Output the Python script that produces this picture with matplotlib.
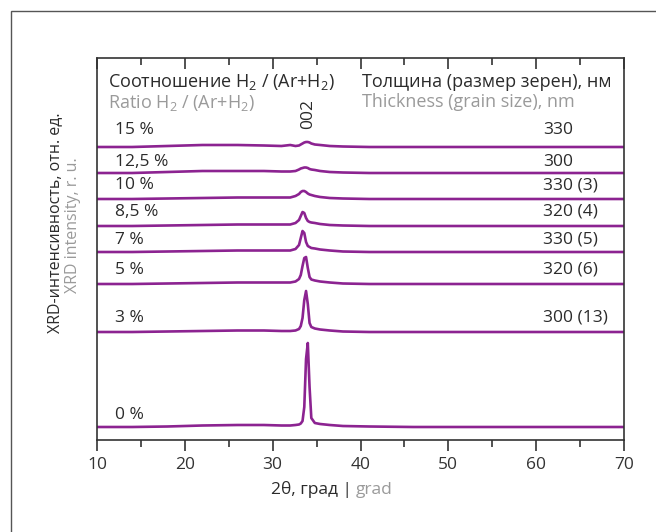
import matplotlib
matplotlib.use("Agg")
import matplotlib.pyplot as plt
from matplotlib import markers
from matplotlib.patches import Rectangle

plt.rcParams['font.family'] = ['Open Sans', 'DejaVu Sans']
plt.rcParams['mathtext.fontset'] = 'custom'
plt.rcParams['mathtext.rm'] = 'Open Sans'
plt.rcParams['mathtext.it'] = 'Open Sans'

# 2theta sample points (deg)
two_theta = [10, 14, 18, 22, 26, 29, 31, 32, 32.6, 33.0, 33.2, 33.4, 33.6,
             33.8, 34.0, 34.2, 34.4, 34.8, 35.4, 36.5, 38, 41, 46, 55, 70]

# intensity above each baseline (r. u.)
i_0 = [0, 0, 0.5, 1.5, 2, 2, 1.5, 1.5, 2, 2.5, 3.5, 6, 20, 68, 84, 40, 9, 4, 3, 2, 1, 0.5, 0, 0, 0]
i_3 = [0, 0, 0.5, 1, 1.5, 1.5, 1, 1, 1.5, 3, 6, 14, 32, 41, 28, 9, 5, 3.5, 2.5, 1.5, 0.5, 0, 0, 0, 0]
i_5 = [0, 0, 0.5, 1, 1.5, 1.5, 1.5, 1.5, 2.5, 5, 9, 18, 26, 27, 16, 7, 4.5, 3.5, 2.5, 1.5, 0.5, 0, 0, 0, 0]
i_7 = [0, 0, 0.5, 1, 1.5, 1.5, 1.5, 1.5, 3, 7, 14, 21, 19, 10, 6, 5, 4, 3.5, 2.5, 1.5, 0.5, 0, 0, 0, 0]
i_85 = [0, 0, 0.5, 1, 1.5, 1.5, 1.5, 1.5, 3, 6, 10, 14, 13, 8, 5, 4, 3.5, 3, 2, 1, 0.5, 0, 0, 0, 0]
i_10 = [0, 0, 0.5, 1, 1.5, 1.5, 1.5, 1.5, 3, 5, 7, 8, 8, 7, 5.5, 4.5, 4, 3, 2, 1, 0.5, 0, 0, 0, 0]
i_125 = [0, 0, 1, 2, 2, 2, 1.5, 1.5, 2, 3.5, 4.5, 5, 5.5, 5.5, 5, 4, 3.5, 3, 2, 1, 0.5, 0, 0, 0, 0]
i_15 = [0, 0, 1, 2, 2, 1.5, 1, 2, 1, 1.5, 2.5, 3.5, 4.5, 5, 5, 4.5, 3.5, 2.5, 2, 1, 0.5, 0, 0, 0, 0]

curves = [i_0, i_3, i_5, i_7, i_85, i_10, i_125, i_15]
baselines = [13, 108, 156, 188, 214, 241, 267, 293]
ratio_labels = ['0 %', '3 %', '5 %', '7 %', '8,5 %', '10 %', '12,5 %', '15 %']
thickness_labels = ['', '300 (13)', '320 (6)', '330 (5)', '320 (4)', '330 (3)', '300', '330']
label_lift = [12, 14, 14, 12, 14, 14, 11, 17]

purple = '#8C2391'
gray = '#9a9a9a'
dark = '#2b2b2b'
axcol = '#333333'

fig = plt.figure(figsize=(6.56, 5.32), dpi=100)
ax = fig.add_axes([97 / 656, 1 - 440 / 532, (624 - 97) / 656, (440 - 58) / 532])

for y, base in zip(curves, baselines):
    ax.plot(two_theta, [v + base for v in y], color=purple, lw=1.9,
            solid_joinstyle='round', solid_capstyle='butt')

fs = 12.5
for base, lab, th, lift in zip(baselines, ratio_labels, thickness_labels, label_lift):
    ax.text(12.0, base + lift, lab, fontsize=fs, color=dark, va='center', ha='left')
    if th:
        ax.text(60.8, base + lift, th, fontsize=fs, color=dark, va='center', ha='left')

ax.text(34.0, 326, '002', rotation=90, fontsize=fs, color=dark, ha='center', va='center')

hfs = 13
ax.text(11.2, 358, 'Соотношение H$_2$ / (Ar+H$_2$)', fontsize=hfs, color=dark, va='center')
ax.text(11.2, 337, 'Ratio H$_2$ / (Ar+H$_2$)', fontsize=hfs, color=gray, va='center')
ax.text(40.2, 358, 'Толщина (размер зерен), нм', fontsize=hfs, color=dark, va='center')
ax.text(40.2, 338, 'Thickness (grain size), nm', fontsize=hfs, color=gray, va='center')

ax.set_xlim(10, 70)
ax.set_ylim(0, 382)
ax.set_yticks([])
ax.set_xticks(range(10, 71, 10))
ax.set_xticks(range(15, 70, 10), minor=True)
ax.tick_params(axis='x', which='major', direction='out', length=8, width=1.2,
               colors=axcol, labelsize=fs, pad=4, top=True)
ax.tick_params(axis='x', which='minor', direction='out', length=5, width=1.2,
               colors=axcol, top=True)
for sp in ax.spines.values():
    sp.set_color(axcol)
    sp.set_linewidth(1.2)

fig.text(352 / 656, 1 - 490 / 532, '2θ, град |', fontsize=fs, color=dark, ha='right', va='center')
fig.text(356 / 656, 1 - 490 / 532, 'grad', fontsize=fs, color=gray, ha='left', va='center')
fig.text(55 / 656, 1 - 223 / 532, 'XRD-интенсивность, отн. ед.', fontsize=11.5, color=dark,
         rotation=90, ha='center', va='center')
fig.text(73 / 656, 1 - 225 / 532, 'XRD intensity, r. u.', fontsize=11.5, color=gray,
         rotation=90, ha='center', va='center')

fig.patches.append(Rectangle((11 / 656, -0.1), 1.2, 1 - 11 / 532 + 0.1,
                             transform=fig.transFigure, fill=False,
                             edgecolor='#555555', lw=1.0))

# top ticks point inward: flip their markers once the ticks exist
fig.canvas.draw()
for t in ax.xaxis.get_major_ticks() + ax.xaxis.get_minor_ticks():
    t.tick2line.set_marker(markers.TICKDOWN)

fig.savefig('out.png', dpi=100)
